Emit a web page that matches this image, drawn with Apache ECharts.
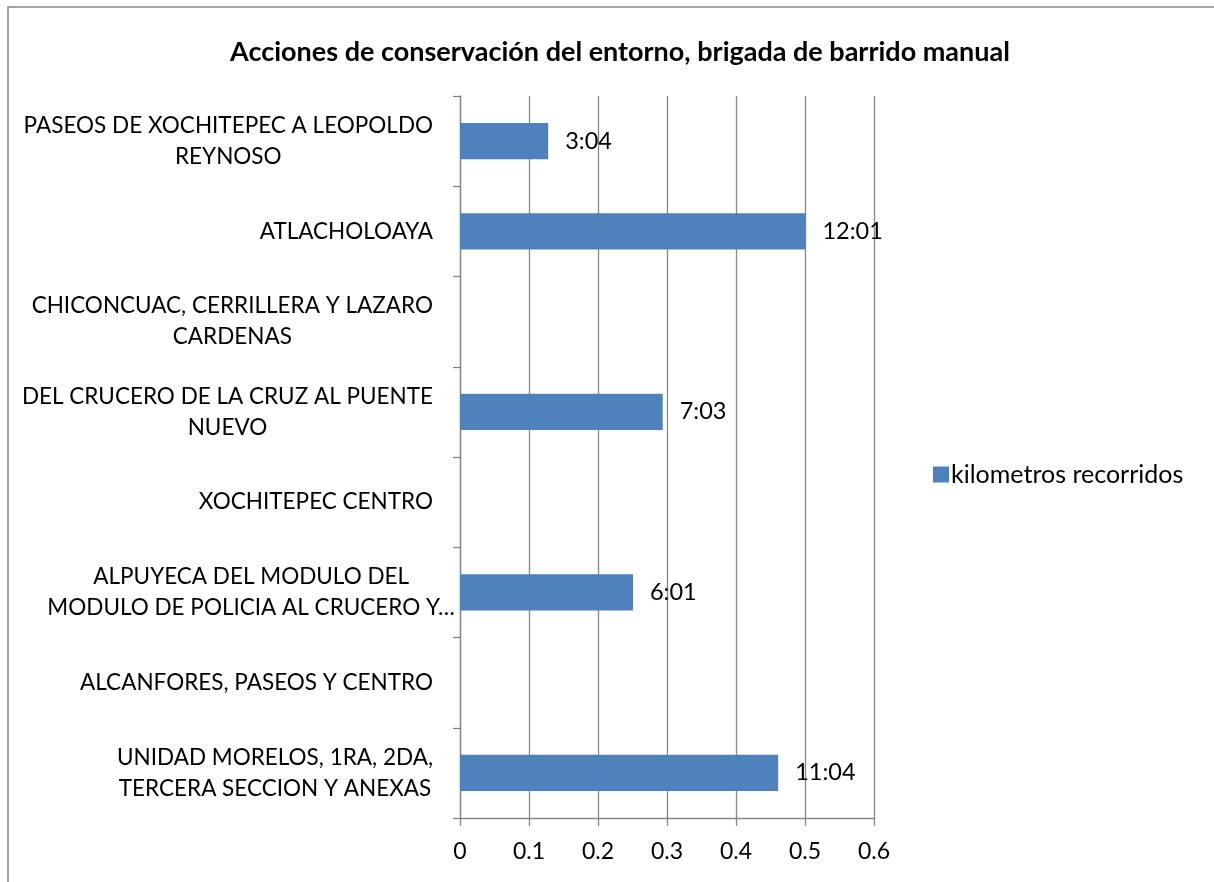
<!DOCTYPE html>
<html>
<head>
<meta charset="utf-8">
<script src="https://cdn.jsdelivr.net/npm/echarts@6/dist/echarts.min.js"></script>
<style>html,body{margin:0;padding:0;background:#fff}#c{width:1214px;height:882px}</style>
</head>
<body>
<div id="c"></div>
<script>
// Categories listed bottom to top (as plotted on the category axis)
const categories = [
  "UNIDAD MORELOS, 1RA, 2DA,\nTERCERA SECCION Y ANEXAS",
  "ALCANFORES, PASEOS Y CENTRO",
  "ALPUYECA DEL MODULO DEL\nMODULO DE POLICIA AL CRUCERO Y…",
  "XOCHITEPEC CENTRO",
  "DEL CRUCERO DE LA CRUZ AL PUENTE\nNUEVO",
  "CHICONCUAC, CERRILLERA Y LAZARO\nCARDENAS",
  "ATLACHOLOAYA",
  "PASEOS DE XOCHITEPEC A LEOPOLDO\nREYNOSO"
];
// fraction of a day
const kmValues = [0.4611, null, 0.2507, null, 0.2938, null, 0.5007, 0.1278];
const valueLabels = ["11:04", "", "6:01", "", "7:03", "", "12:01", "3:04"];
const xTicks = [0, 0.1, 0.2, 0.3, 0.4, 0.5, 0.6];
const seriesName = "kilometros recorridos";
const titleText = "Acciones de conservación del entorno, brigada de barrido manual";

const FONT = "Lato";
const GRAY = "#878787";
const chart = echarts.init(document.getElementById('c'), null, {renderer: 'canvas'});
chart.setOption({
  animation: false,
  backgroundColor: '#fff',
  graphic: [{
    type: 'rect', shape: {x: 8, y: 7, width: 1400, height: 1000},
    style: {fill: 'none', stroke: GRAY, lineWidth: 1.5}, silent: true, z: -1
  }],
  title: {
    text: titleText, left: 615, top: 47, textAlign: 'center', textVerticalAlign: 'middle',
    textStyle: {fontFamily: FONT, fontWeight: 'bold', fontSize: 27, color: '#000'}
  },
  legend: {
    data: [seriesName], left: 933, top: 476 - 14, orient: 'vertical', padding: 0,
    itemWidth: 16, itemHeight: 16, itemGap: 6, icon: 'rect',
    textStyle: {fontFamily: FONT, fontSize: 25, color: '#000', padding: [0, 0, 0, -3]}
  },
  grid: {left: 460, right: 340, top: 96, bottom: 64, containLabel: false},
  xAxis: {
    type: 'value', min: 0, max: 0.6, interval: 0.1,
    axisLine: {show: true, lineStyle: {color: GRAY, width: 1.3}},
    axisTick: {show: true, length: 8, lineStyle: {color: GRAY, width: 1.3}},
    splitLine: {show: true, lineStyle: {color: GRAY, width: 1.3}},
    axisLabel: {
      margin: 22, fontFamily: FONT, fontSize: 23, color: '#000',
      formatter: v => { const t = xTicks.find(x => Math.abs(x - v) < 1e-9); return t === undefined ? '' : String(t); }
    }
  },
  yAxis: {
    type: 'category', data: categories,
    axisLine: {show: true, lineStyle: {color: GRAY, width: 1.3}},
    axisTick: {show: true, length: 7, lineStyle: {color: GRAY, width: 1.3}},
    splitLine: {show: false},
    axisLabel: {
      margin: 5, align: 'right', lineHeight: 31,
      fontFamily: FONT, fontSize: 22, color: '#000',
      formatter: v => {
        const lines = v.split('\n');
        const trunc = lines[lines.length - 1].endsWith('…');
        const st = trunc ? 'n' : 'c';
        return lines.map(l => '{' + st + '|' + l + '}').join('\n');
      },
      rich: {
        c: {align: 'center', fontFamily: FONT, fontSize: 22.5, color: '#000', lineHeight: 31, padding: [0, 22, 0, 0]},
        n: {align: 'center', fontFamily: FONT, fontSize: 22.5, color: '#000', lineHeight: 31}
      }
    }
  },
  series: [{
    name: seriesName, type: 'bar', data: kmValues, barWidth: '40%',
    itemStyle: {color: '#4F81BD'},
    label: {
      show: true, position: 'right', distance: 17,
      fontFamily: FONT, fontSize: 23.5, color: '#000',
      formatter: p => valueLabels[p.dataIndex]
    }
  }]
});
</script>
</body>
</html>
